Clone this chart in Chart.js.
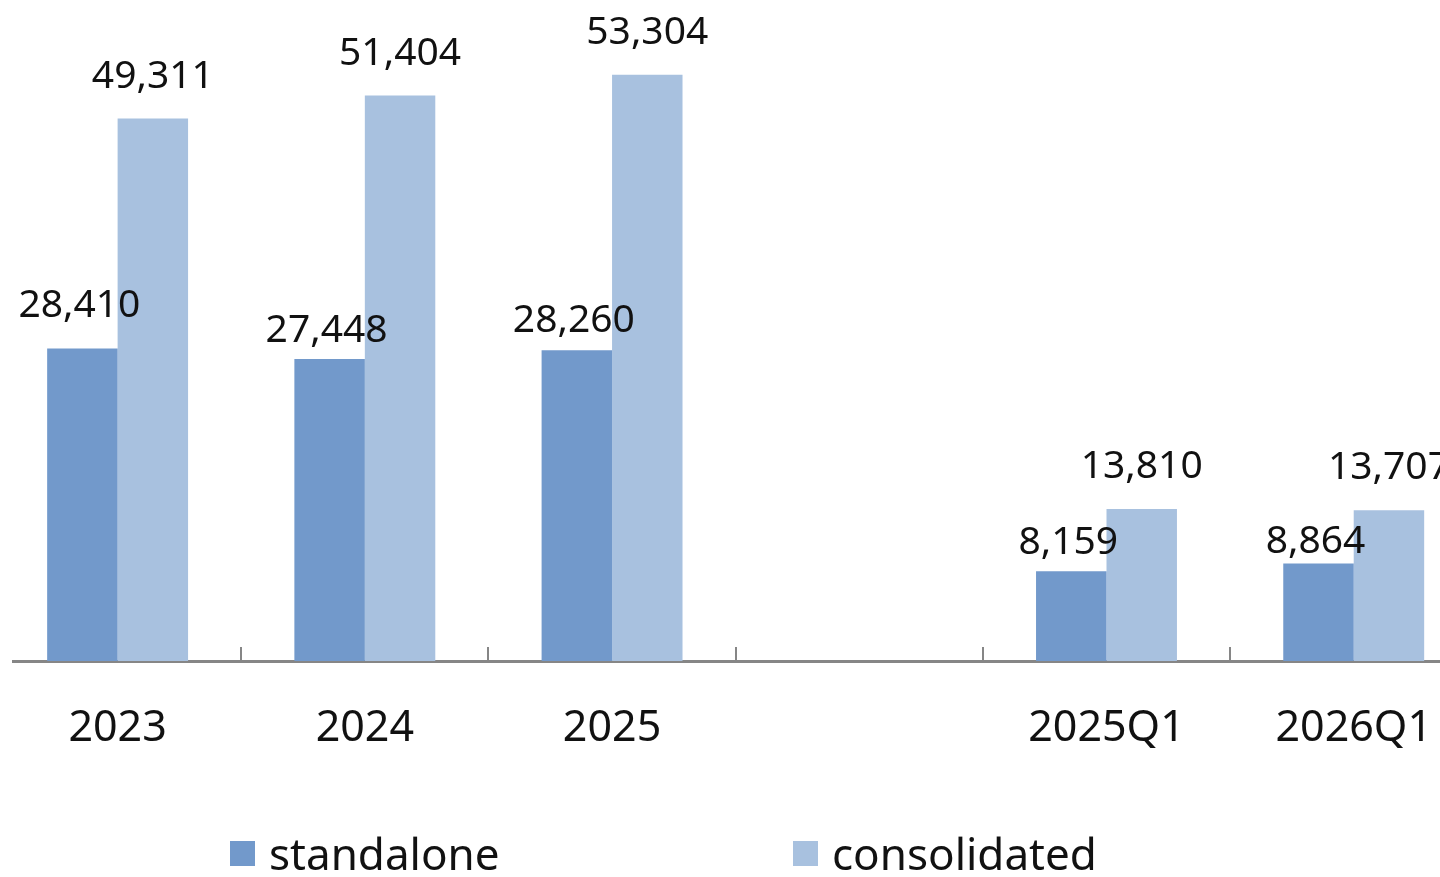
<!DOCTYPE html>
<html>
<head>
<meta charset="utf-8">
<script src="https://cdn.jsdelivr.net/npm/chart.js@4.4.0/dist/chart.umd.min.js"></script>
<style>
  body { margin: 0; width: 1440px; height: 877px; overflow: hidden; background: #fff; position: relative; font-family: "Noto Sans", sans-serif; }
  #chart { position: absolute; left: -6px; top: 0; }
  #axisCover { position: absolute; left: 0; top: 652px; width: 12px; height: 18px; background: #fff; }
  .legend-item { position: absolute; top: 823px; height: 60px; display: flex; align-items: center; font-size: 44px; color: #111; }
  .legend-item .box { width: 25px; height: 25px; margin-right: 14px; }
</style>
</head>
<body>
<canvas id="chart" width="1494" height="877"></canvas>
<div id="axisCover"></div>
<div id="legend"></div>
<script>
const categories = ['2023', '2024', '2025', '', '2025Q1', '2026Q1'];
const standalone = [28410, 27448, 28260, null, 8159, 8864];
const consolidated = [49311, 51404, 53304, null, 13810, 13707];
const seriesNames = ['standalone', 'consolidated'];
const seriesColors = ['#7299CB', '#A8C1DF'];
const legendLeft = [230, 793];
// gap between bar top and its number, per point (the source placed them by hand)
const labelGap = [
    [43, 28, 29, 0, 28, 22],
    [42, 42, 42, 0, 42, 42]
];

// numbers above each bar, placed from the bar elements
const valueLabels = {
    id: 'valueLabels',
    afterDatasetsDraw(chart) {
        const ctx = chart.ctx;
        ctx.save();
        ctx.font = '39px "Noto Sans"';
        ctx.fillStyle = '#111';
        ctx.textAlign = 'center';
        ctx.textBaseline = 'middle';
        chart.data.datasets.forEach((ds, i) => {
            chart.getDatasetMeta(i).data.forEach((bar, j) => {
                const v = ds.data[j];
                if (v == null) return;
                const shift = i === 0 ? -3 : 0;
                ctx.fillText(v.toLocaleString('en-US'), bar.x + shift, bar.y - labelGap[i][j]);
            });
        });
        ctx.restore();
    }
};

const ctx = document.getElementById('chart').getContext('2d');
const myChart = new Chart(ctx, {
    type: 'bar',
    data: {
        labels: categories,
        datasets: [
            { label: seriesNames[0], data: standalone, backgroundColor: seriesColors[0] },
            { label: seriesNames[1], data: consolidated, backgroundColor: seriesColors[1] }
        ]
    },
    options: {
        responsive: false,
        animation: false,
        devicePixelRatio: 1,
        categoryPercentage: 0.57,
        barPercentage: 1,
        layout: { padding: { top: 1, left: 0, right: 0, bottom: 0 } },
        plugins: {
            legend: { display: false },
            tooltip: { enabled: false }
        },
        scales: {
            x: {
                grid: {
                    offset: true,
                    drawOnChartArea: false,
                    drawTicks: true,
                    tickLength: -14,
                    color: '#868686',
                    lineWidth: 2
                },
                border: { color: '#868686', width: 3 },
                ticks: {
                    font: { size: 43, family: 'Noto Sans' },
                    color: '#111',
                    padding: 56
                },
                afterFit(scale) { scale.height = 216; }
            },
            y: {
                display: false,
                min: 0,
                max: 60000
            }
        }
    },
    plugins: [valueLabels]
});

// legend built from the series arrays
const legend = document.getElementById('legend');
seriesNames.forEach((name, i) => {
    const item = document.createElement('div');
    item.className = 'legend-item';
    item.style.left = legendLeft[i] + 'px';
    const box = document.createElement('span');
    box.className = 'box';
    box.style.background = seriesColors[i];
    const txt = document.createElement('span');
    txt.textContent = name;
    item.appendChild(box);
    item.appendChild(txt);
    legend.appendChild(item);
});
</script>
</body>
</html>
